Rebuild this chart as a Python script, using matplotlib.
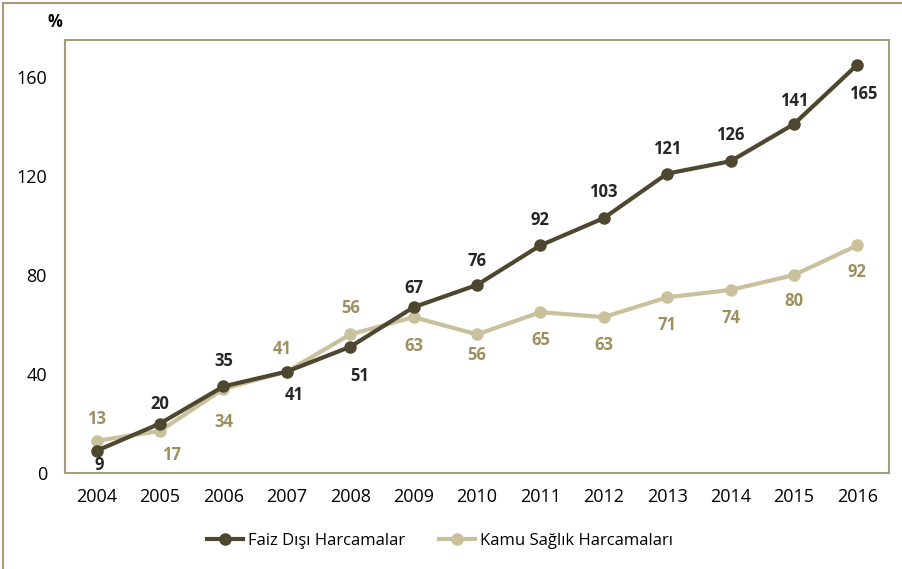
import numpy as np
import matplotlib.pyplot as plt
from matplotlib.patches import Rectangle

years = ['2004', '2005', '2006', '2007', '2008', '2009', '2010',
         '2011', '2012', '2013', '2014', '2015', '2016']
faiz_disi = [9, 20, 35, 41, 51, 67, 76, 92, 103, 121, 126, 141, 165]
kamu_saglik = [13, 17, 34, 41, 56, 63, 56, 65, 63, 71, 74, 80, 92]

# label offsets from the marker, in points (dx, dy)
faiz_off = [(2, -10), (0, 14), (0, 18), (5, -17), (7, -21), (0, 14), (0, 17),
            (0, 18), (0, 19), (0, 18), (0, 19), (0, 17), (4, -21)]
kamu_off = [(0, 16), (8, -17), (0, -24), (-3, 16), (0, 19), (0, -21), (0, -15),
            (0, -20), (0, -20), (0, -20), (0, -20), (0, -19), (0, -19)]

dark = '#4d4730'
light = '#c9c19b'
light_txt = '#9d9060'
frame = '#a39d7c'

plt.rcParams['font.family'] = ['Open Sans', 'DejaVu Sans']

fig = plt.figure(figsize=(9.02, 5.69), dpi=100)
fig.patches.append(Rectangle((3 / 902, -0.1), 1.2, 1.1 - 3 / 569,
                             transform=fig.transFigure, fill=False,
                             edgecolor=frame, linewidth=1.5))
ax = fig.add_axes([65 / 902, (569 - 473) / 569, 824 / 902, 433 / 569])

x = np.arange(len(years))
ax.plot(x, faiz_disi, color=dark, linewidth=3, marker='o', markersize=8,
        label='Faiz Dışı Harcamalar', zorder=3)
ax.plot(x, kamu_saglik, color=light, linewidth=3, marker='o', markersize=8,
        label='Kamu Sağlık Harcamaları', zorder=2)

for i in range(len(years)):
    ax.annotate(str(faiz_disi[i]), (x[i], faiz_disi[i]), xytext=faiz_off[i],
                textcoords='offset points', ha='center', va='center',
                fontsize=12, fontweight='bold', color='#262626')
    ax.annotate(str(kamu_saglik[i]), (x[i], kamu_saglik[i]), xytext=kamu_off[i],
                textcoords='offset points', ha='center', va='center',
                fontsize=12, fontweight='bold', color=light_txt)

ax.set_xlim(-0.5, 12.5)
ax.set_ylim(0, 175)
ax.set_xticks(x)
ax.set_xticklabels(years)
ax.set_yticks([0, 40, 80, 120, 160])
ax.tick_params(length=0, labelsize=13)
ax.tick_params(axis='y', pad=13)
ax.tick_params(axis='x', pad=11)
for s in ax.spines.values():
    s.set_color(frame)
    s.set_linewidth(1.5)

fig.text(55 / 902, 1 - 22 / 569, '%', fontsize=12, fontweight='bold',
         ha='center', va='center')

fig.legend(loc='center', bbox_to_anchor=(440 / 902, 1 - 541 / 569), ncol=2, frameon=False,
           fontsize=12, handlelength=2.2, columnspacing=2.0, handletextpad=0.3)

plt.savefig('out.png', dpi=100)
